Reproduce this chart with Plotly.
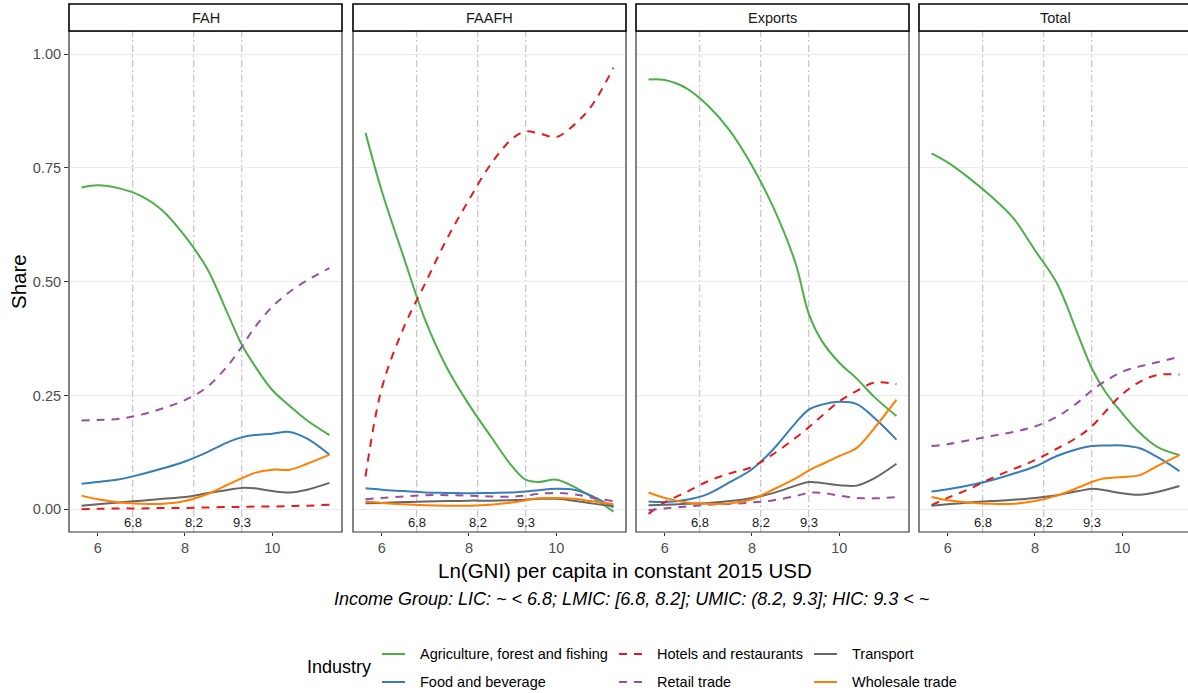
import plotly.graph_objects as go

# ---- figure geometry (pixels) ----
W, H = 1188, 693
ML, MR, MT, MB = 69, 0, 31, 161
PW = W - ML - MR
PH = H - MT - MB


def px_x(px):
    return (px - ML) / PW


def px_y(py):
    return (H - MB - py) / PH


# ---- data ----
facets = ["FAH", "FAAFH", "Exports", "Total"]
industries = [
    "Agriculture, forest and fishing",
    "Food and beverage",
    "Hotels and restaurants",
    "Retail trade",
    "Transport",
    "Wholesale trade",
]
income_cuts = [6.8, 8.2, 9.3]
cut_labels = ["6.8", "8.2", "9.3"]
y_ticks = [0.0, 0.25, 0.5, 0.75, 1.0]
y_tick_labels = ["0.00", "0.25", "0.50", "0.75", "1.00"]
x_ticks = [6, 8, 10]

ln_gni = [5.63, 6.0, 6.5, 7.0, 7.5, 8.0, 8.5, 9.0, 9.3, 9.6, 10.0, 10.4, 10.8, 11.31]

fah_agriculture = [0.707, 0.712, 0.705, 0.688, 0.655, 0.600, 0.530, 0.425, 0.362, 0.315, 0.262, 0.227, 0.195, 0.163]
fah_food = [0.056, 0.060, 0.066, 0.077, 0.090, 0.105, 0.125, 0.148, 0.158, 0.163, 0.166, 0.170, 0.155, 0.120]
fah_hotels = [0.000, 0.001, 0.002, 0.002, 0.003, 0.003, 0.004, 0.005, 0.005, 0.006, 0.006, 0.007, 0.008, 0.010]
fah_retail = [0.195, 0.196, 0.199, 0.208, 0.222, 0.240, 0.268, 0.318, 0.357, 0.400, 0.445, 0.478, 0.503, 0.530]
fah_transport = [0.008, 0.011, 0.015, 0.019, 0.023, 0.027, 0.035, 0.043, 0.047, 0.046, 0.040, 0.037, 0.043, 0.058]
fah_wholesale = [0.030, 0.022, 0.015, 0.012, 0.012, 0.018, 0.033, 0.055, 0.068, 0.080, 0.087, 0.087, 0.100, 0.120]

faafh_agriculture = [0.827, 0.700, 0.555, 0.415, 0.310, 0.230, 0.160, 0.093, 0.065, 0.060, 0.065, 0.050, 0.028, -0.005]
faafh_food = [0.046, 0.043, 0.040, 0.037, 0.036, 0.035, 0.036, 0.037, 0.039, 0.042, 0.045, 0.043, 0.030, 0.004]
faafh_hotels = [0.072, 0.265, 0.398, 0.497, 0.595, 0.680, 0.758, 0.815, 0.830, 0.826, 0.818, 0.844, 0.885, 0.970]
faafh_retail = [0.022, 0.025, 0.028, 0.031, 0.031, 0.030, 0.028, 0.028, 0.030, 0.034, 0.036, 0.033, 0.026, 0.018]
faafh_transport = [0.013, 0.014, 0.016, 0.017, 0.018, 0.019, 0.019, 0.020, 0.021, 0.023, 0.023, 0.019, 0.013, 0.007]
faafh_wholesale = [0.017, 0.014, 0.011, 0.009, 0.008, 0.008, 0.010, 0.015, 0.020, 0.024, 0.025, 0.023, 0.018, 0.011]

exports_agriculture = [0.944, 0.943, 0.925, 0.886, 0.831, 0.755, 0.661, 0.540, 0.430, 0.370, 0.322, 0.287, 0.247, 0.205]
exports_food = [0.017, 0.016, 0.021, 0.034, 0.060, 0.088, 0.133, 0.190, 0.219, 0.230, 0.236, 0.231, 0.201, 0.153]
exports_hotels = [-0.010, 0.015, 0.038, 0.062, 0.079, 0.093, 0.122, 0.157, 0.180, 0.205, 0.237, 0.260, 0.278, 0.275]
exports_retail = [-0.002, 0.002, 0.006, 0.010, 0.012, 0.015, 0.020, 0.029, 0.036, 0.036, 0.030, 0.025, 0.024, 0.027]
exports_transport = [0.009, 0.010, 0.012, 0.014, 0.018, 0.025, 0.036, 0.052, 0.060, 0.058, 0.053, 0.052, 0.068, 0.100]
exports_wholesale = [0.037, 0.025, 0.015, 0.012, 0.013, 0.022, 0.044, 0.068, 0.085, 0.099, 0.117, 0.135, 0.178, 0.241]

total_agriculture = [0.782, 0.762, 0.727, 0.687, 0.640, 0.569, 0.497, 0.380, 0.310, 0.260, 0.211, 0.168, 0.137, 0.119]
total_food = [0.039, 0.044, 0.053, 0.064, 0.078, 0.094, 0.117, 0.133, 0.139, 0.140, 0.140, 0.134, 0.115, 0.084]
total_hotels = [0.009, 0.025, 0.045, 0.068, 0.088, 0.108, 0.133, 0.160, 0.182, 0.213, 0.253, 0.280, 0.295, 0.296]
total_retail = [0.139, 0.143, 0.152, 0.161, 0.170, 0.182, 0.203, 0.236, 0.261, 0.281, 0.302, 0.314, 0.323, 0.335]
total_transport = [0.008, 0.011, 0.015, 0.018, 0.021, 0.025, 0.031, 0.040, 0.045, 0.042, 0.035, 0.032, 0.038, 0.051]
total_wholesale = [0.027, 0.020, 0.015, 0.012, 0.012, 0.018, 0.030, 0.048, 0.060, 0.068, 0.071, 0.075, 0.095, 0.119]

shares = {
    "FAH": [fah_agriculture, fah_food, fah_hotels, fah_retail, fah_transport, fah_wholesale],
    "FAAFH": [faafh_agriculture, faafh_food, faafh_hotels, faafh_retail, faafh_transport, faafh_wholesale],
    "Exports": [exports_agriculture, exports_food, exports_hotels, exports_retail, exports_transport, exports_wholesale],
    "Total": [total_agriculture, total_food, total_hotels, total_retail, total_transport, total_wholesale],
}

# ---- styles ----
colors = ["#4DAF4A", "#377EB8", "#E41A1C", "#984EA3", "#666666", "#FF7F00"]
dashes = ["solid", "solid", "8px,7px", "8px,7px", "solid", "solid"]
FONT = "Liberation Sans, Arial, Helvetica, sans-serif"
LW = 2.0

panels_px = [(69, 342), (353, 626), (636, 909), (919, 1192)]
X_LEFT = 5.343
PX_PER_UNIT = 43.65
Y_RANGE = [-0.0499, 1.0508]

fig = go.Figure()
layout = dict(
    width=W, height=H,
    margin=dict(l=ML, r=MR, t=MT, b=MB, pad=0),
    paper_bgcolor="white", plot_bgcolor="white",
    showlegend=False,
    font=dict(family=FONT, color="#1A1A1A"),
)

shapes = []
annotations = []


def label(x, y, text, size, color="#000000", xanchor="center", **kw):
    return dict(xref=kw.pop("xref", "paper"), yref=kw.pop("yref", "paper"), x=x, y=y, text=text,
                showarrow=False, xanchor=xanchor, yanchor="middle",
                font=dict(size=size, color=color, family=FONT), **kw)


for i, (facet, (left, right)) in enumerate(zip(facets, panels_px)):
    ax = "" if i == 0 else str(i + 1)
    vis_right = min(right, W)
    layout["xaxis" + ax] = dict(
        domain=[px_x(left), min(px_x(right), 1.0)],
        range=[X_LEFT, X_LEFT + (vis_right - left) / PX_PER_UNIT],
        anchor="y", tickvals=x_ticks, ticks="outside", ticklen=3, tickwidth=1,
        tickcolor="#333333", tickfont=dict(size=14.5, color="#4D4D4D", family=FONT),
        showgrid=False, zeroline=False, showline=False, fixedrange=True,
    )
    for k, ind in enumerate(industries):
        fig.add_trace(go.Scatter(
            x=ln_gni, y=shares[facet][k], mode="lines", name=ind,
            xaxis="x" + ax, yaxis="y",
            line=dict(color=colors[k], width=LW, dash=dashes[k], shape="spline", smoothing=1.0),
            hoverinfo="skip",
        ))
    # income group boundaries
    for v, lab in zip(income_cuts, cut_labels):
        shapes.append(dict(type="line", xref="x" + ax, yref="paper", x0=v, x1=v, y0=0, y1=1,
                           line=dict(color="#C8C8C8", width=1.3, dash="7px,3px,2px,3px"), layer="below"))
        annotations.append(label(v, -0.028, lab, 13, "#1A1A1A", xref="x" + ax, yref="y"))
    # panel border
    shapes.append(dict(type="rect", xref="paper", yref="paper", x0=px_x(left), x1=px_x(right),
                       y0=0, y1=1, line=dict(color="#333333", width=1.2), fillcolor="rgba(0,0,0,0)"))
    # strip
    shapes.append(dict(type="rect", xref="paper", yref="paper", x0=px_x(left), x1=px_x(right),
                       y0=1, y1=px_y(4), line=dict(color="#000000", width=1.6), fillcolor="white"))
    annotations.append(label(px_x((left + right) / 2), px_y(17.5), facet, 14.5, "#1A1A1A"))

layout["yaxis"] = dict(
    domain=[0, 1], range=Y_RANGE, anchor="x", tickvals=y_ticks, ticktext=y_tick_labels,
    ticks="outside", ticklen=4, tickwidth=1, tickcolor="#333333",
    tickfont=dict(size=14.5, color="#4D4D4D", family=FONT),
    showgrid=True, gridcolor="#EBEBEB", gridwidth=1.1, zeroline=False, showline=False, fixedrange=True,
)

# axis titles and caption
annotations.append(label(px_x(18), px_y(282), "Share", 20.5, textangle=-90))
annotations.append(label(px_x(625), px_y(570), "Ln(GNI) per capita in constant 2015 USD", 20.5))
annotations.append(label(px_x(631), px_y(599),
                         "<i>Income Group: LIC: ~ &lt; 6.8; LMIC: [6.8, 8.2]; UMIC: (8.2, 9.3]; HIC: 9.3 &lt; ~</i>",
                         18))

# legend drawn as keys + labels
annotations.append(label(px_x(305), px_y(667), "Industry", 18, xanchor="left"))
key_cols = [(382, 418), (619, 655), (814, 850)]
row_y = [654, 682]
for k, ind in enumerate(industries):
    col, row = k // 2, k % 2
    kx, tx = key_cols[col]
    ky = row_y[row]
    shapes.append(dict(type="line", xref="paper", yref="paper", x0=px_x(kx), x1=px_x(kx + 23),
                       y0=px_y(ky), y1=px_y(ky), line=dict(color=colors[k], width=LW, dash=dashes[k])))
    annotations.append(label(px_x(tx), px_y(ky), ind, 14.5, xanchor="left"))

layout["shapes"] = shapes
layout["annotations"] = annotations
fig.update_layout(**layout)
fig.write_html("out.html")
